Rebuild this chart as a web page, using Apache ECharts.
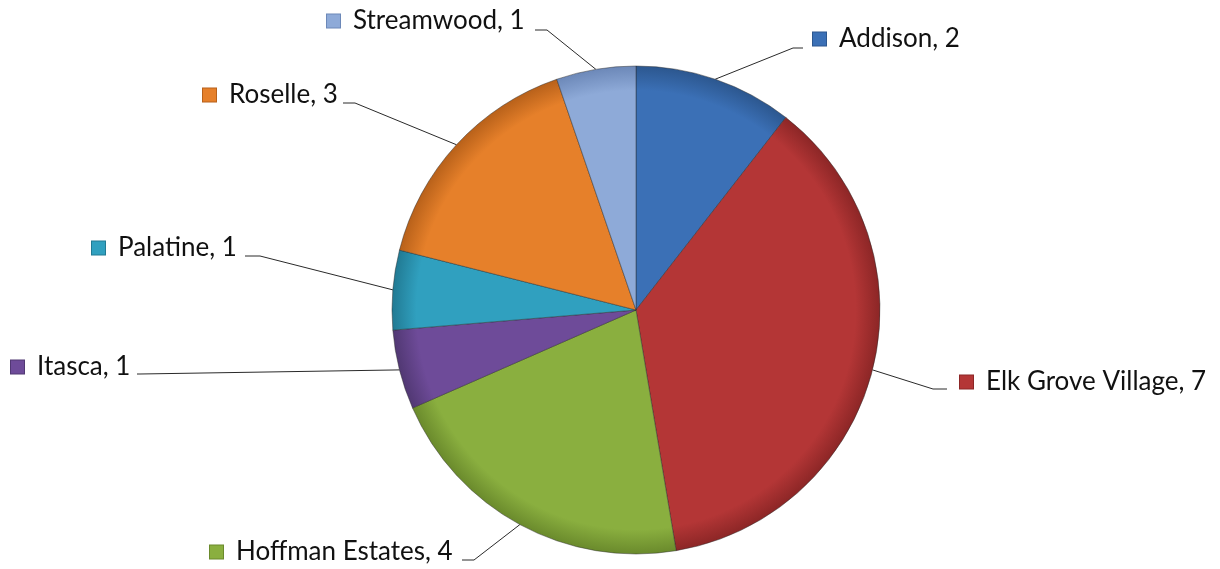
<!DOCTYPE html>
<html>
<head>
<meta charset="utf-8">
<script src="https://cdn.jsdelivr.net/npm/echarts@6/dist/echarts.min.js"></script>
<style>
html,body{margin:0;padding:0;background:#fff;}
#chart{width:1220px;height:569px;}
</style>
</head>
<body>
<div id="chart"></div>
<script>
// ---- data ----
const categories = ['Addison', 'Elk Grove Village', 'Hoffman Estates', 'Itasca', 'Palatine', 'Roselle', 'Streamwood'];
const values = [2, 7, 4, 1, 1, 3, 1];
const colors = ['#3b70b6', '#b43636', '#8aaf3f', '#6e4b99', '#30a0bf', '#e6802a', '#8eaad8'];
const darkColors = ['#2c578f', '#8c2626', '#6a8a2c', '#513873', '#217a93', '#b8611a', '#6c88b8'];

// ---- label layout (positions of label boxes and leader-line bends) ----
const labelBox = [
  {x: 813, y: 39, elbow: [793, 48], end: [803, 48]},
  {x: 960, y: 382, elbow: [933, 389], end: [947, 389]},
  {x: 210, y: 552, elbow: [474, 560], end: [462, 560]},
  {x: 11,  y: 367, elbow: [140, 374], end: [137, 374]},
  {x: 92,  y: 248, elbow: [260, 256], end: [245, 256]},
  {x: 203, y: 95,  elbow: [355, 103], end: [343, 103]},
  {x: 327, y: 21,  elbow: [547, 30],  end: [535, 30]}
];

const CX = 636, CY = 310, R = 244;

const rich = {
  t: {fontSize: 26, fontFamily: 'Lato', color: '#111', padding: [0, 0, 0, 13]}
};
colors.forEach((c, i) => {
  rich['ic' + i] = {width: 13, height: 13, backgroundColor: c, borderColor: darkColors[i], borderWidth: 1};
});

const data = categories.map((name, i) => ({
  name: name,
  value: values[i],
  itemStyle: {
    color: {
      type: 'radial', x: CX, y: CY, r: R, global: true,
      colorStops: [
        {offset: 0, color: colors[i]},
        {offset: 0.9, color: colors[i]},
        {offset: 1, color: darkColors[i]}
      ]
    }
  }
}));

const chart = echarts.init(document.getElementById('chart'));
chart.setOption({
  backgroundColor: '#ffffff',
  animation: false,
  series: [{
    type: 'pie',
    center: [CX, CY],
    radius: R,
    startAngle: 90,
    clockwise: true,
    data: data,
    itemStyle: {borderColor: 'rgba(40,40,40,0.45)', borderWidth: 1},
    label: {
      show: true,
      position: 'outside',
      formatter: p => '{ic' + p.dataIndex + '|}{t|' + p.name + ', ' + p.value + '}',
      rich: rich
    },
    labelLine: {show: true, lineStyle: {color: '#2a2a2a', width: 1}},
    labelLayout: function (params) {
      const b = labelBox[params.dataIndex];
      const start = params.labelLinePoints ? params.labelLinePoints[0] : b.elbow;
      return {
        x: b.x,
        y: b.y,
        align: 'left',
        verticalAlign: 'middle',
        labelLinePoints: [start, b.elbow, b.end]
      };
    }
  }]
});
</script>
</body>
</html>
